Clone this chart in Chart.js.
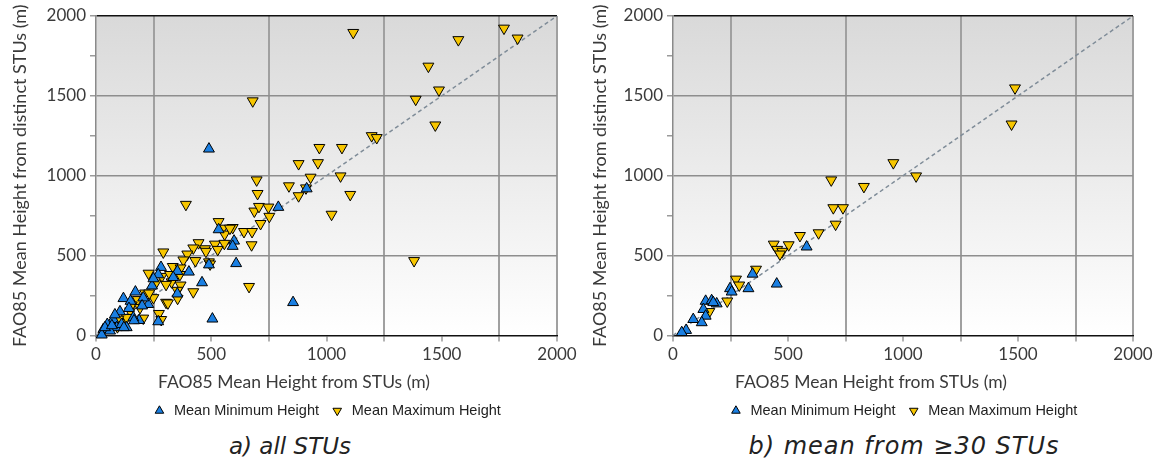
<!DOCTYPE html>
<html>
<head>
<meta charset="utf-8">
<script src="https://cdn.jsdelivr.net/npm/chart.js@4/dist/chart.umd.min.js"></script>
<style>
  html, body { margin: 0; padding: 0; background: #fff; }
  #wrap { position: relative; width: 1160px; height: 466px; }
  .panel { position: absolute; top: 0; width: 580px; height: 428px; }
  .xtitle {
    position: absolute; top: 371px;
    font-family: Lato, "Open Sans", sans-serif; font-size: 17.5px; color: #3a3a3a;
    white-space: nowrap; transform: translateX(-50%);
  }
  .caption {
    position: absolute; top: 433px;
    font-family: "DejaVu Sans", Verdana, sans-serif; font-style: italic;
    font-size: 23px; color: #222; white-space: nowrap;
    transform: translateX(-50%);
  }
</style>
</head>
<body>
<div id="wrap">
  <div class="panel" style="left:0"><canvas id="chartA"></canvas></div>
  <div class="panel" style="left:580px"><canvas id="chartB"></canvas></div>
  <div class="xtitle" style="left:294px">FAO85 Mean Height from STUs (m)</div>
  <div class="xtitle" style="left:871px">FAO85 Mean Height from STUs (m)</div>
  <div class="caption" style="left:290px">a) all STUs</div>
  <div class="caption" style="left:904px; top:432px; font-size:24px; letter-spacing:1px">b) mean from ≥30 STUs</div>
</div>
<script>
// tick labels shown on both axes (ticks every 250)
const tickLabels = [0, 500, 1000, 1500, 2000];
const diagonal = [0, 2000];

// a) all STUs
const allMinX = [490, 791, 914, 532, 599, 593, 608, 490, 460, 855, 505, 282, 270, 353, 403, 243, 353, 171, 119, 150,
  143, 187, 270, 227, 104, 75, 49, 32, 25, 133, 205, 335, 249, 90, 111, 162, 61, 200, 121, 39, 82, 165, 69];
const allMinY = [1168, 803, 919, 663, 592, 559, 451, 443, 331, 207, 104, 427, 381, 402, 398, 311, 261, 273, 232, 215,
  170, 95, 87, 195, 149, 101, 70, 39, 4, 50, 236, 364, 356, 50, 70, 112, 29, 186, 50, 50, 130, 93, 62];
const allMaxX = [1116, 1770, 1829, 1572, 1442, 1488, 1387, 680, 1472, 1196, 1218, 969, 1067, 879, 963, 697, 931, 1061, 837, 911,
  701, 879, 1103, 390, 687, 707, 748, 1022, 752, 714, 532, 550, 593, 558, 642, 677, 675, 445, 422, 473,
  516, 557, 528, 292, 396, 379, 431, 490, 1380, 333, 367, 285, 228, 328, 367, 422, 354, 664, 304, 312,
  273, 283, 205, 249, 181, 213, 259, 148, 119, 93, 155, 321, 364, 304, 353, 191, 133, 97, 61, 477,
  495, 581, 231];
const allMaxY = [1896, 1923, 1861, 1851, 1685, 1536, 1478, 1468, 1317, 1250, 1238, 1176, 1176, 1075, 1081, 973, 990, 998, 936, 923,
  888, 874, 882, 820, 778, 807, 803, 758, 745, 700, 712, 671, 675, 634, 650, 650, 567, 580, 547, 542,
  571, 576, 538, 522, 509, 472, 468, 460, 468, 431, 422, 369, 389, 335, 315, 273, 232, 306, 207, 203,
  137, 99, 108, 236, 224, 265, 327, 153, 81, 54, 190, 381, 381, 319, 282, 174, 112, 101, 60, 526,
  447, 671, 265];

// b) mean from >=30 STUs
const subMinX = [581, 346, 451, 328, 248, 255, 142, 168, 190, 132, 142, 88, 125, 57, 38, 175];
const subMinY = [555, 385, 323, 294, 294, 273, 215, 219, 199, 164, 122, 101, 81, 33, 19, 207];
const subMaxX = [1487, 1472, 958, 1057, 688, 830, 697, 739, 707, 633, 552, 438, 503, 453, 475, 465, 361, 274, 288, 236, 158];
const subMaxY = [1549, 1323, 1081, 998, 973, 932, 799, 799, 696, 642, 625, 571, 567, 538, 526, 509, 414, 352, 315, 215, 149];

Chart.defaults.font.family = "Lato, 'Open Sans', sans-serif";
Chart.defaults.color = '#3a3a3a';

const plotBg = {
  id: 'plotBg',
  beforeDraw(chart) {
    const { ctx, chartArea: a } = chart;
    const g = ctx.createLinearGradient(0, a.top, 0, a.bottom);
    g.addColorStop(0, '#d9d9d9');
    g.addColorStop(1, '#ffffff');
    ctx.save();
    ctx.fillStyle = g;
    ctx.fillRect(a.left, a.top, a.right - a.left, a.bottom - a.top);
    ctx.restore();
  }
};

function pts(xs, ys) {
  return xs.map((x, i) => ({ x: x, y: ys[i] }));
}

function makeChart(id, minX, minY, maxX, maxY, plotLeft, padRight) {
  return new Chart(document.getElementById(id), {
    type: 'scatter',
    data: {
      datasets: [
        {
          label: 'Mean Minimum Height',
          data: pts(minX, minY),
          pointStyle: 'triangle',
          pointRadius: 6.3,
          backgroundColor: '#1a7fe2',
          pointBackgroundColor: '#1a7fe2',
          borderColor: '#000',
          pointBorderColor: '#000',
          borderWidth: 1,
          pointBorderWidth: 1,
          clip: false
        },
        {
          label: 'Mean Maximum Height',
          data: pts(maxX, maxY),
          pointStyle: 'triangle',
          pointRotation: 180,
          pointRadius: 6.3,
          backgroundColor: '#f7c600',
          pointBackgroundColor: '#f7c600',
          borderColor: '#000',
          pointBorderColor: '#000',
          borderWidth: 1,
          pointBorderWidth: 1,
          clip: false
        },
        {
          type: 'line',
          label: '1:1',
          data: pts(diagonal, diagonal),
          borderColor: '#7f8c98',
          borderWidth: 1.5,
          borderDash: [4, 3],
          pointRadius: 0,
          order: 5
        }
      ]
    },
    plugins: [plotBg],
    options: {
      responsive: true,
      maintainAspectRatio: false,
      animation: false,
      layout: { padding: { top: 16, right: padRight, left: 0, bottom: 0 } },
      plugins: {
        tooltip: { enabled: false },
        legend: {
          position: 'bottom',
          fullSize: false,
          labels: {
            usePointStyle: true,
            boxHeight: 7,
            padding: 11,
            color: '#222',
            font: { family: "'Liberation Sans', Arial, sans-serif", size: 14.5 },
            filter: (item) => item.datasetIndex < 2
          }
        }
      },
      scales: {
        x: {
          type: 'linear',
          min: 0,
          max: 2000,
          afterFit: (scale) => { scale.height = 57; },
          ticks: {
            stepSize: 250,
            autoSkip: false,
            maxRotation: 0,
            padding: 3,
            font: { size: 17 },
            callback: (v) => tickLabels.includes(v) ? String(v) : ''
          },
          grid: {
            lineWidth: 2,
            color: (c) => (c.tick && (c.tick.value % 500 === 250 || c.tick.value === 2000)) ? '#a0a0a0' : 'rgba(0,0,0,0)',
            tickColor: '#9a9a9a',
            tickLength: 6,
            tickWidth: 1.5
          },
          border: { color: '#111', width: 1.5 }
        },
        y: {
          type: 'linear',
          min: 0,
          max: 2000,
          afterFit: (scale) => { scale.width = plotLeft; },
          ticks: {
            stepSize: 250,
            autoSkip: false,
            padding: 4,
            font: { size: 17 },
            callback: (v) => tickLabels.includes(v) ? String(v) : ''
          },
          grid: {
            lineWidth: 1.5,
            color: (c) => {
              if (!c.tick) return 'rgba(0,0,0,0)';
              if (c.tick.value === 2000) return '#111';
              return (c.tick.value % 500 === 0 && c.tick.value > 0) ? '#8e8e8e' : 'rgba(0,0,0,0)';
            },
            tickColor: '#9a9a9a',
            tickLength: 6,
            tickWidth: 1.5
          },
          border: { color: '#8a8a8a', width: 1.5 },
          title: {
            display: true,
            text: 'FAO85 Mean Height from distinct STUs (m)',
            font: { size: 18 },
            padding: { top: 9, bottom: 0 }
          }
        }
      }
    }
  });
}

makeChart('chartA', allMinX, allMinY, allMaxX, allMaxY, 96, 23);
makeChart('chartB', subMinX, subMinY, subMaxX, subMaxY, 93, 27);
</script>
</body>
</html>
